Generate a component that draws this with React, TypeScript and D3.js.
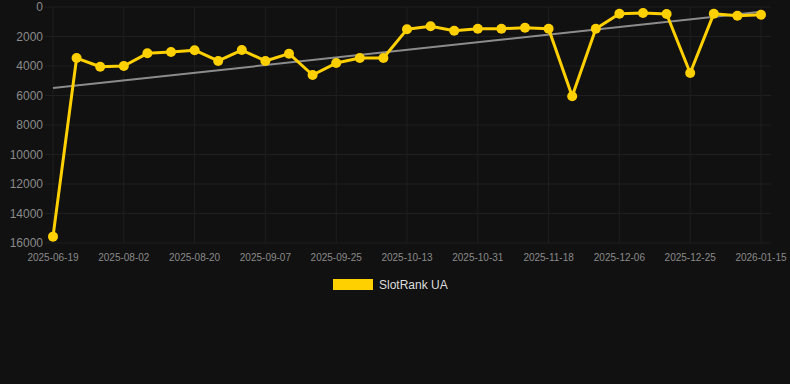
import React from "react";
import { scaleLinear, scalePoint, line, range } from "d3";

const width = 790;
const height = 384;
const margin = { top: 7, right: 29, bottom: 141, left: 53 };
const innerW = width - margin.left - margin.right;
const innerH = height - margin.top - margin.bottom;

const dates = [
  "2025-06-19", "2025-07-04", "2025-07-18", "2025-08-02", "2025-08-08", "2025-08-14",
  "2025-08-20", "2025-08-26", "2025-09-01", "2025-09-07", "2025-09-13", "2025-09-19",
  "2025-09-25", "2025-10-01", "2025-10-07", "2025-10-13", "2025-10-19", "2025-10-25",
  "2025-10-31", "2025-11-06", "2025-11-12", "2025-11-18", "2025-11-24", "2025-11-30",
  "2025-12-06", "2025-12-12", "2025-12-18", "2025-12-25", "2026-01-01", "2026-01-08",
  "2026-01-15",
];

const ranks = [
  15570, 3460, 4050, 4000, 3140, 3050, 2930, 3660, 2920, 3660, 3165, 4610, 3800, 3460,
  3460, 1514, 1310, 1605, 1469, 1469, 1401, 1469, 6056, 1469, 452, 407, 475, 4475, 452,
  588, 520,
];

const yTicks = [0, 2000, 4000, 6000, 8000, 10000, 12000, 14000, 16000];
const seriesName = "SlotRank UA";

const x = scalePoint<string>().domain(dates).range([0, innerW]);
const y = scaleLinear().domain([0, 16000]).range([0, innerH]);

// linear regression for the trend line
const n = ranks.length;
const meanX = (n - 1) / 2;
const meanY = ranks.reduce((a, b) => a + b, 0) / n;
const sxy = ranks.reduce((s, v, i) => s + (i - meanX) * (v - meanY), 0);
const sxx = range(n).reduce((s, i) => s + (i - meanX) ** 2, 0);
const slope = sxy / sxx;
const intercept = meanY - slope * meanX;
const trend = [0, n - 1].map((i) => ({ d: dates[i], v: intercept + slope * i }));

const rankLine = line<number>()
  .x((_, i) => x(dates[i]) as number)
  .y((d) => y(d));

const trendLine = line<{ d: string; v: number }>()
  .x((d) => x(d.d) as number)
  .y((d) => y(d.v));

const gold = "#FFD000";
const grid = "#1f1f1f";
const font = "'Liberation Sans', Arial, sans-serif";

export default function App() {
  const shownTicks = dates.filter((_, i) => i % 3 === 0);
  return (
    <div style={{ position: "absolute", left: 0, top: 0 }}>
      <svg width={width} height={height} style={{ display: "block", background: "#111111" }}>
        <g transform={`translate(${margin.left}, ${margin.top})`}>
          {yTicks.map((t) => (
            <g key={t}>
              <line x1={-8} x2={innerW + 10} y1={y(t)} y2={y(t)} stroke={grid} strokeWidth="1" />
              <text
                x={-10}
                y={y(t)}
                dy="0.35em"
                textAnchor="end"
                fill="#8a8a8a"
                fontSize="12"
                fontFamily={font}
              >
                {t}
              </text>
            </g>
          ))}
          {shownTicks.map((d) => (
            <g key={d}>
              <line x1={x(d)} x2={x(d)} y1={0} y2={innerH} stroke={grid} strokeWidth="1" />
              <text
                x={x(d)}
                y={innerH + 18}
                textAnchor="middle"
                fill="#8a8a8a"
                fontSize="10"
                fontFamily={font}
              >
                {d}
              </text>
            </g>
          ))}
          <path d={trendLine(trend) ?? ""} fill="none" stroke="#8c8c8c" strokeWidth="2" />
          <path d={rankLine(ranks) ?? ""} fill="none" stroke={gold} strokeWidth="3" strokeLinejoin="round" />
          {ranks.map((v, i) => (
            <circle key={i} cx={x(dates[i])} cy={y(v)} r={5} fill={gold} />
          ))}
        </g>
        <g transform="translate(333, 279)">
          <rect width={40} height={11} fill={gold} />
          <text x={46} y={5.5} dy="0.35em" fill="#dddddd" fontSize="12" fontFamily={font}>
            {seriesName}
          </text>
        </g>
      </svg>
    </div>
  );
}
